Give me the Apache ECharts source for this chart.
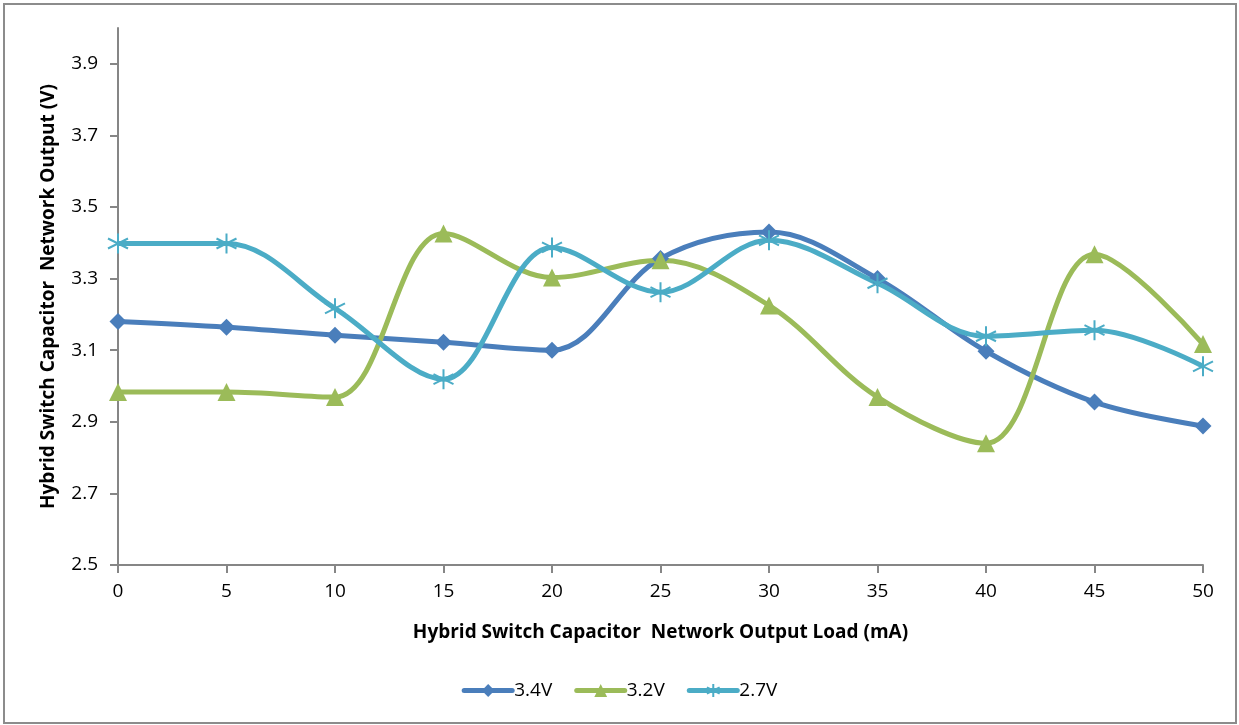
<!DOCTYPE html>
<html>
<head>
<meta charset="utf-8">
<script src="https://cdn.jsdelivr.net/npm/echarts@6/dist/echarts.min.js"></script>
<style>
html,body{margin:0;padding:0;background:#fff;}
#chart{width:1239px;height:725px;}
</style>
</head>
<body>
<div id="chart"></div>
<script>
const loads = [0, 5, 10, 15, 20, 25, 30, 35, 40, 45, 50];
const v34 = [3.18, 3.164, 3.142, 3.122, 3.10, 3.356, 3.43, 3.30, 3.097, 2.955, 2.888];
const v32 = [2.983, 2.983, 2.969, 3.426, 3.303, 3.351, 3.225, 2.969, 2.84, 3.368, 3.117];
const v27 = [3.398, 3.398, 3.217, 3.019, 3.387, 3.262, 3.407, 3.287, 3.139, 3.156, 3.055];
const seriesNames = ['3.4V', '3.2V', '2.7V'];
const xTitle = 'Hybrid Switch Capacitor  Network Output Load (mA)';
const yTitle = 'Hybrid Switch Capacitor  Network Output (V)';

const FONT = 'Open Sans';
const axisGrey = '#868686';
const asterisk = 'path://M0,-10L0,10M-8.66,-5L8.66,5M-8.66,5L8.66,-5';

function pairs(vals){ return loads.map((x,i)=>[x, vals[i]]); }

const chart = echarts.init(document.getElementById('chart'), null, {renderer:'canvas'});
chart.setOption({
  animation:false,
  backgroundColor:'#fff',
  textStyle:{fontFamily:FONT},
  graphic:[{type:'rect', shape:{x:4,y:4,width:1232,height:719}, style:{fill:'none', stroke:'#8c8c8c', lineWidth:2}}],
  grid:{left:118, right:36, top:28, bottom:160},
  legend:{
    bottom:20, left:'center', itemWidth:48, itemHeight:16, itemGap:22,
    lineStyle:{width:5, cap:'round'},
    textStyle:{fontFamily:FONT, fontSize:19, color:'#000', padding:[0,0,0,-3]},
    data:seriesNames
  },
  xAxis:{
    type:'value', min:0, max:50, interval:5,
    name:xTitle, nameLocation:'middle', nameGap:58,
    nameTextStyle:{fontFamily:FONT, fontWeight:'bold', fontSize:19, color:'#000'},
    axisLine:{lineStyle:{color:axisGrey, width:2}},
    axisTick:{show:true, length:8, lineStyle:{color:axisGrey, width:2}},
    axisLabel:{fontFamily:FONT, fontSize:19, color:'#000', margin:17},
    splitLine:{show:false}
  },
  yAxis:{
    type:'value', min:2.5, max:4.0, interval:0.2,
    name:yTitle, nameLocation:'middle', nameGap:60,
    nameTextStyle:{fontFamily:FONT, fontWeight:'bold', fontSize:19, color:'#000'},
    axisLine:{show:true, lineStyle:{color:axisGrey, width:2}},
    axisTick:{show:true, length:8, lineStyle:{color:axisGrey, width:2}},
    axisLabel:{fontFamily:FONT, fontSize:19, color:'#000', margin:20, showMaxLabel:false,
      formatter:v=>v.toFixed(1)},
    splitLine:{show:false}
  },
  series:[
    {name:'3.4V', type:'line', smooth:0.35, data:pairs(v34), symbol:'diamond', symbolSize:17,
      lineStyle:{color:'#4a7ebb', width:5}, itemStyle:{color:'#4a7ebb'}},
    {name:'3.2V', type:'line', smooth:0.35, data:pairs(v32), symbol:'triangle', symbolSize:18,
      lineStyle:{color:'#9bbb59', width:5}, itemStyle:{color:'#9bbb59'}},
    {name:'2.7V', type:'line', smooth:0.35, data:pairs(v27), symbol:asterisk, symbolSize:20,
      lineStyle:{color:'#4bacc6', width:5}, itemStyle:{color:'#4bacc6', borderColor:'#4bacc6', borderWidth:2}}
  ]
});
</script>
</body>
</html>
